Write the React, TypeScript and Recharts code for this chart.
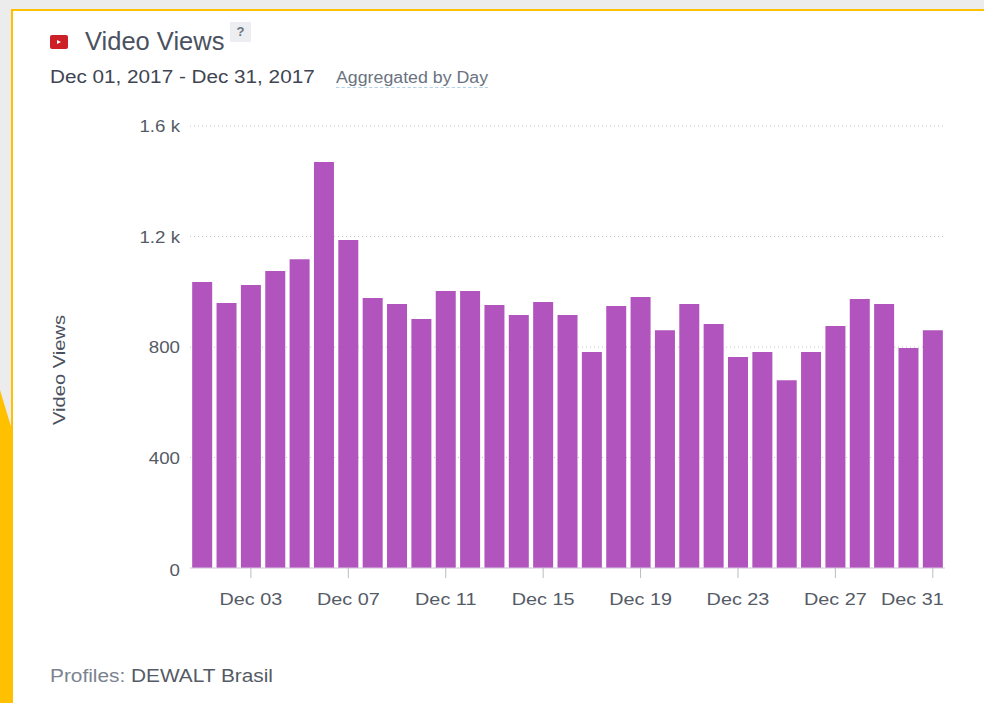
import React from "react";
import { BarChart, Bar, XAxis, YAxis, CartesianGrid } from "recharts";

const days = ["Dec 01","Dec 02","Dec 03","Dec 04","Dec 05","Dec 06","Dec 07","Dec 08","Dec 09","Dec 10","Dec 11","Dec 12","Dec 13","Dec 14","Dec 15","Dec 16","Dec 17","Dec 18","Dec 19","Dec 20","Dec 21","Dec 22","Dec 23","Dec 24","Dec 25","Dec 26","Dec 27","Dec 28","Dec 29","Dec 30","Dec 31"];
const views = [1035,959,1024,1075,1118,1470,1187,977,956,901,1003,1003,952,916,963,916,782,948,981,861,956,883,764,782,680,782,876,974,956,796,861];
const xTicks = ["Dec 03","Dec 07","Dec 11","Dec 15","Dec 19","Dec 23","Dec 27","Dec 31"];
const yTicks = [0,400,800,1200,1600];
const data = days.map((day, i) => ({ day, views: views[i] }));
const FONT = '"Liberation Sans", Arial, sans-serif';

const formatY = (v: number) => (v >= 1000 ? `${(v / 1000).toFixed(1)} k` : String(v));

const XTick = (p: any) => {
  const last = p.payload.value === "Dec 31";
  const x = last ? p.x + 11 : p.x;
  return (
    <text transform={`translate(${x},${p.y + 25}) scale(1.24,1)`} textAnchor={last ? "end" : "middle"} fontSize={16} fill="#555b66" fontFamily={FONT}>
      {p.payload.value}
    </text>
  );
};

const YTick = (p: any) => (
  <text transform={`translate(${p.x},${p.y + (p.payload.value === 0 ? 8 : 6)}) scale(1.17,1)`} textAnchor="end" fontSize={16} fill="#555b66" fontFamily={FONT}>
    {formatY(p.payload.value)}
  </text>
);

const abs = (s: React.CSSProperties): React.CSSProperties => ({ position: "absolute", whiteSpace: "nowrap", fontFamily: FONT, ...s });

export default function App() {
  return (
    <div style={{ position: "absolute", left: 0, top: 0, width: 984, height: 703, overflow: "hidden", background: "#ececec" }}>
      <svg width={984} height={703} style={{ position: "absolute", left: 0, top: 0 }}>
        <polygon points="0,390 12,430 12,703 0,703" fill="#ffc000" />
        <rect x={11} y={9} width={973} height={694} fill="#ffc000" />
        <rect x={13} y={11} width={971} height={692} fill="#ffffff" />
      </svg>
      <svg width={20} height={14} style={{ position: "absolute", left: 50, top: 35 }}>
        <rect x={0} y={0} width={18} height={14} rx={2} fill="#cd1f27" />
        <polygon points="7,5 7,9 11,7" fill="#ffffff" />
      </svg>
      <div style={abs({ left: 85, top: 27, fontSize: 25.5, color: "#4a5160" })}>Video Views</div>
      <div style={abs({ left: 230, top: 22, width: 21, height: 20, background: "#eceef1", color: "#6b7380", fontSize: 13, fontWeight: 700, textAlign: "center", lineHeight: "19px" })}>?</div>
      <div style={abs({ left: 50, top: 67, fontSize: 18, color: "#3f4552", transform: "scaleX(1.15)", transformOrigin: "left" })}>Dec 01, 2017 - Dec 31, 2017</div>
      <div style={abs({ left: 336, top: 69, fontSize: 16, color: "#6b7380", borderBottom: "1px dashed #b5d3e6", lineHeight: "18px", transform: "scaleX(1.11)", transformOrigin: "left" })}>Aggregated by Day</div>
      <div style={abs({ left: 50, top: 666, fontSize: 17.5, color: "#7b838f", transform: "scaleX(1.19)", transformOrigin: "left" })}>Profiles: <span style={{ color: "#555b66" }}>DEWALT Brasil</span></div>
      <div style={{ position: "absolute", left: 0, top: 100 }}>
        <BarChart width={984} height={520} data={data} barCategoryGap="9%" margin={{ top: 26, right: 39, bottom: 22, left: 130 }}>
          <CartesianGrid vertical={false} stroke="#c4c6cc" strokeDasharray="1 3" />
          <XAxis dataKey="day" ticks={xTicks} interval={0} tick={<XTick />} stroke="#d8c8e0" tickLine={{ stroke: "#b9bcc2" }} tickSize={10} />
          <YAxis type="number" domain={[0, 1600]} ticks={yTicks} width={60} axisLine={false} tickLine={false} tickSize={0} tickMargin={10} tick={<YTick />} />
          <Bar dataKey="views" fill="#b154bd" isAnimationActive={false} />
        </BarChart>
      </div>
      <div style={abs({ left: 60, top: 370, fontSize: 16, color: "#4a5160", transform: "translate(-50%,-50%) rotate(-90deg) scaleX(1.26)" })}>Video Views</div>
    </div>
  );
}
